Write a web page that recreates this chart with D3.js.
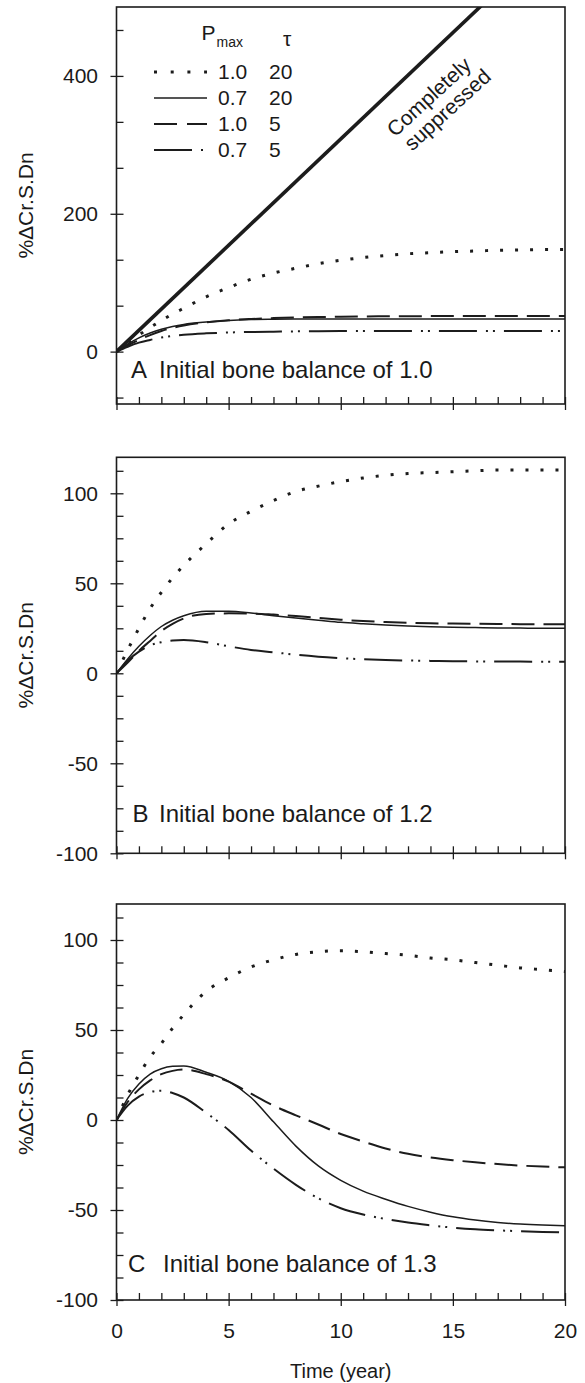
<!DOCTYPE html>
<html><head><meta charset="utf-8">
<script src="https://cdn.jsdelivr.net/npm/d3@7"></script>
<style>
body{margin:0;background:#fff;}
svg text{font-family:"Liberation Sans",Arial,Helvetica,sans-serif;fill:#1a1a1a;}
</style></head><body>
<svg id="chart" width="585" height="1383"></svg>
<script>
// ---------------- data ----------------
const years = [0,0.5,1,1.5,2,2.5,3,4,5,6,7,8,9,10,11,12,13,14,15,16,17,18,19,20];

// Panel A: initial bone balance 1.0
const a_p10_t20 = [0,12,24,35,45,54.5,63,79.5,93,105,114,121,127.5,132.5,136.5,139.5,142,143.5,145,146,147,147.5,148,148];
const a_p07_t20 = [0,11,20,27,32.5,36.5,39.5,43,45.3,46.5,47,47.3,47.5,47.5,47.5,47.5,47.5,47.5,47.5,47.5,47.5,47.5,47.5,47.5];
const a_p10_t5  = [0,9,17,24,30,34.5,38,42.5,45.5,47.3,48.6,49.5,50.2,50.7,51,51.2,51.4,51.5,51.6,51.7,51.7,51.8,51.8,51.8];
const a_p07_t5  = [0,7,13,17,20.5,22.8,24.5,26.5,27.7,28.5,29,29.4,29.7,29.9,30,30,30,30,30,30,30,30,30,30];
const suppressedYears = [0,20];
const suppressedA = [0,617];

// Panel B: initial bone balance 1.2
const b_p10_t20 = [0,13,25,36,45,53,60,72,83,90,96,101,104,106.5,108.5,110,111,111.5,112,112.5,113,113,113,113];
const b_p07_t20 = [0,8,15,21,26,29.5,32,34.5,34.5,33.5,32,30.7,29.5,28.3,27.5,26.8,26.3,25.9,25.6,25.4,25.2,25.1,25,25];
const b_p10_t5  = [0,6,12.5,18,23.5,27.5,30.5,33,33.3,33.2,32.6,31.8,30.8,29.8,29,28.5,28.1,27.8,27.6,27.5,27.4,27.3,27.3,27.2];
const b_p07_t5  = [0,7,12,15.5,17.3,18.2,18.5,17.3,15,13,11.7,10.3,9.2,8.4,7.8,7.4,7.1,6.9,6.7,6.6,6.5,6.5,6.4,6.4];

// Panel C: initial bone balance 1.3
const c_p10_t20 = [0,14,25,35,42.5,51,58.5,71.5,79,85,89,92,93.5,94,93.5,92.5,91.5,90,89,87.5,86,84.5,83.5,82.5];
const c_p07_t20 = [0,12,20,25.5,28.5,29.8,30,26.5,21.5,12.5,-1,-14.5,-25.5,-33.5,-39.5,-44,-48,-51.2,-53.8,-55.6,-56.9,-57.8,-58.4,-58.8];
const c_p10_t5  = [0,10,17,22,25.5,27.3,28,25.5,21.3,14.6,8,2.6,-2.5,-7.8,-12,-15.8,-18.8,-20.8,-22.3,-23.5,-24.5,-25.3,-25.9,-26.3];
const c_p07_t5  = [0,8,13,15.5,16.3,15,12.5,4,-5.5,-17,-27,-36,-43.5,-49,-52.5,-55,-57,-58.5,-59.8,-60.7,-61.3,-61.8,-62.2,-62.5];

// Labels / ticks
const legendPmax = ["1.0","0.7","1.0","0.7"];
const legendTau  = ["20","20","5","5"];
const xTicks = [0,5,10,15,20];
const yTicksA = [0,200,400];
const yTicksBC = [-100,-50,0,50,100];
const panelLetters = ["A","B","C"];
const panelTitles = ["Initial bone balance of 1.0","Initial bone balance of 1.2","Initial bone balance of 1.3"];
const yLabel = "%ΔCr.S.Dn";
const xLabel = "Time (year)";
const suppressedLabel = ["Completely","suppressed"];

// ---------------- drawing ----------------
const svg = d3.select("#chart");
const X0 = 116.5, X1 = 565;
const x = d3.scaleLinear().domain([0,20]).range([X0,X1]);
const ink = "#1c1c1c";
const fmt = d => String(d);

const styles = [
  {w:3,   dash:"3,12"},          // Pmax 1.0, tau 20 dotted
  {w:1.5, dash:null},            // Pmax 0.7, tau 20 solid
  {w:2,   dash:"23,9"},          // Pmax 1.0, tau 5 dashed
  {w:2,   dash:"38,9,2,5,2,9"}   // Pmax 0.7, tau 5 dash-dot-dot
];

const panels = [
  {top:7,     bottom:404,    domain:[-76,500],  major:yTicksA,  minorStep:200/3, series:[a_p10_t20,a_p07_t20,a_p10_t5,a_p07_t5],
   letterX:131, titleX:159, titleY:378},
  {top:457.3, bottom:853.3,  domain:[-100,120], major:yTicksBC, minorStep:12.5, series:[b_p10_t20,b_p07_t20,b_p10_t5,b_p07_t5],
   letterX:132.5, titleX:159, titleY:821.5},
  {top:904,   bottom:1300,   domain:[-100,120], major:yTicksBC, minorStep:12.5, series:[c_p10_t20,c_p07_t20,c_p10_t5,c_p07_t5],
   letterX:128, titleX:163, titleY:1272}
];

const xMinor = d3.range(0,20.001,1);

panels.forEach((p,i)=>{
  const y = d3.scaleLinear().domain(p.domain).range([p.bottom,p.top]);
  const g = svg.append("g");
  const clipId = "clip"+i;
  svg.append("clipPath").attr("id",clipId).append("rect")
    .attr("x",X0).attr("y",p.top).attr("width",X1-X0).attr("height",p.bottom-p.top);

  const yMinor = [];
  for(let v=Math.ceil(p.domain[0]/p.minorStep)*p.minorStep; v<=p.domain[1]+1e-6; v+=p.minorStep) yMinor.push(v);

  g.append("g").attr("transform",`translate(${X0},0)`)
    .call(d3.axisLeft(y).tickValues(yMinor).tickSize(-7).tickFormat(""))
    .call(s=>{s.select(".domain").remove(); s.selectAll("line").attr("stroke",ink).attr("stroke-width",1.3);});
  g.append("g").attr("transform",`translate(${X0},0)`)
    .call(d3.axisLeft(y).tickValues(p.major).tickSize(6).tickPadding(12.5).tickFormat(fmt))
    .call(s=>{s.select(".domain").remove();
      s.selectAll("line").attr("stroke",ink).attr("stroke-width",1.3);
      s.selectAll("text").attr("font-size",21).attr("font-family",null).attr("fill",ink);});

  g.append("g").attr("transform",`translate(0,${p.bottom})`)
    .call(d3.axisBottom(x).tickValues(xMinor).tickSize(-7).tickFormat(""))
    .call(s=>{s.select(".domain").remove(); s.selectAll("line").attr("stroke",ink).attr("stroke-width",1.3);});
  const xb = g.append("g").attr("transform",`translate(0,${p.bottom})`)
    .call(d3.axisBottom(x).tickValues(xTicks).tickSize(6).tickPadding(17).tickFormat(fmt))
    .call(s=>{s.select(".domain").remove(); s.selectAll("line").attr("stroke",ink).attr("stroke-width",1.3);
      s.selectAll("text").attr("font-size",21).attr("font-family",null).attr("fill",ink);});
  if(i<2) xb.selectAll("text").remove();

  g.append("rect").attr("x",X0).attr("y",p.top).attr("width",X1-X0).attr("height",p.bottom-p.top)
    .attr("fill","none").attr("stroke",ink).attr("stroke-width",1.6);

  g.append("text").attr("transform",`translate(33,${(p.top+p.bottom)/2}) rotate(-90)`)
    .attr("text-anchor","middle").attr("font-size",21).text(yLabel);

  const line = d3.line().x((d,j)=>x(years[j])).y(d=>y(d)).curve(d3.curveMonotoneX);
  const lg = g.append("g").attr("clip-path",`url(#${clipId})`);
  p.series.forEach((s,k)=>{
    lg.append("path").datum(s).attr("d",line).attr("fill","none").attr("stroke",ink)
      .attr("stroke-width",styles[k].w).attr("stroke-dasharray",styles[k].dash)
      .attr("stroke-linecap","butt");
  });
  if(i===0){
    const sl = d3.line().x((d,j)=>x(suppressedYears[j])).y(d=>y(d));
    lg.append("path").datum(suppressedA).attr("d",sl).attr("fill","none").attr("stroke",ink).attr("stroke-width",3.6);
  }

  g.append("text").attr("x",p.letterX).attr("y",p.titleY).attr("font-size",24).text(panelLetters[i]);
  g.append("text").attr("x",p.titleX).attr("y",p.titleY).attr("font-size",24).text(panelTitles[i]);
});

svg.append("text").attr("x",(X0+X1)/2).attr("y",1378).attr("text-anchor","middle").attr("font-size",20).text(xLabel);

const leg = svg.append("g");
const ph = leg.append("text").attr("x",201.5).attr("y",40).attr("font-size",21);
ph.append("tspan").text("P");
ph.append("tspan").attr("font-size",14).attr("dy",7).attr("dx",1).text("max");
leg.append("text").attr("x",283).attr("y",46).attr("font-size",21).text("τ");
legendPmax.forEach((v,k)=>{
  const by = 79 + k*26;
  leg.append("line").attr("x1",154).attr("x2",207).attr("y1",by-7).attr("y2",by-7)
    .attr("stroke",ink).attr("stroke-width",styles[k].w)
    .attr("stroke-dasharray",k===0?"3,13.7":(k===2?"23,10":styles[k].dash));
  leg.append("text").attr("x",218).attr("y",by).attr("font-size",21).text(v);
  leg.append("text").attr("x",269).attr("y",by).attr("font-size",21).text(legendTau[k]);
});

const cs = svg.append("g").attr("transform","translate(429,97) rotate(-42.5)");
cs.append("text").attr("text-anchor","middle").attr("y",7).attr("font-size",21).text(suppressedLabel[0]);
cs.append("text").attr("text-anchor","middle").attr("x",5).attr("y",29).attr("font-size",21).text(suppressedLabel[1]);
</script>
</body></html>
